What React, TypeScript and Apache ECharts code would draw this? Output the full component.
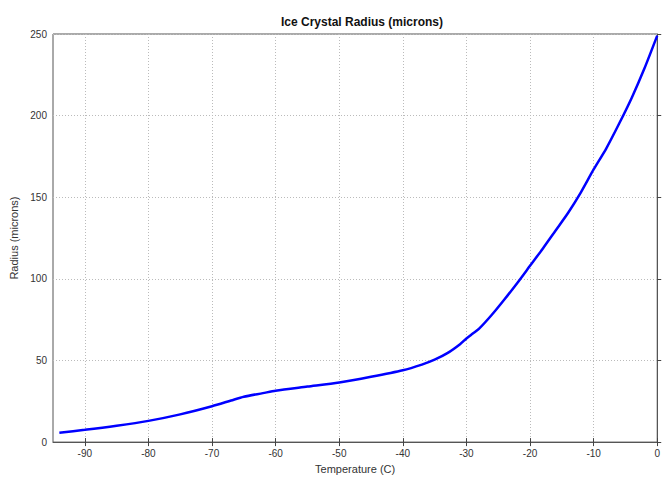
import React, { useEffect, useRef } from "react";
import * as echarts from "echarts";

const temperatures = [-94, -90, -85, -80, -75, -70, -67, -65, -62, -60, -55, -50, -45, -40, -37, -35, -33, -31, -30, -29, -28, -26, -24, -22, -20, -18, -16, -14, -12, -10, -8, -6, -4, -2, 0];
const radii = [5.8, 7.5, 10, 13, 17, 22, 25.5, 27.8, 30, 31.5, 34, 36.5, 40, 44, 47.5, 50.5, 54.5, 60, 63.5, 66.5, 69.5, 78, 87.5, 97.5, 108, 118.5, 129.5, 140.5, 153, 167, 180, 195, 211, 229, 249];
const xTicks = [-90, -80, -70, -60, -50, -40, -30, -20, -10, 0];

const FONT = "'Liberation Sans', Arial, Helvetica, sans-serif";

export default function App() {
  const ref = useRef<HTMLDivElement>(null);
  useEffect(() => {
    if (!ref.current) return;
    const chart = echarts.init(ref.current, null, { renderer: "svg" });
    const data = temperatures.map((t, i) => [t, radii[i]]);
    const tickColor = "#444";
    const gridLine = { show: true, lineStyle: { color: "#bbb", type: [1, 2] as any, width: 1 } };
    chart.setOption({
      animation: false,
      backgroundColor: "#fff",
      title: {
        text: "Ice Crystal Radius (microns)",
        left: 357,
        top: 11,
        textAlign: "center",
        textStyle: { fontFamily: FONT, fontSize: 12, fontWeight: "bold", color: "#111" },
      },
      grid: {
        left: 53,
        right: 1,
        top: 34,
        bottom: 30,
        show: true,
        borderColor: "#555",
        borderWidth: 1,
        backgroundColor: "#fff",
      },
      xAxis: [
        {
          type: "value",
          min: -95,
          max: 0,
          name: "Temperature (C)",
          nameLocation: "middle",
          nameGap: 16,
          nameTextStyle: { fontFamily: FONT, fontSize: 11, color: "#333" },
          axisLine: { show: true, onZero: false, lineStyle: { color: "#555" } },
          axisTick: { show: true, inside: true, length: 4, customValues: xTicks, lineStyle: { color: tickColor } },
          axisLabel: { customValues: xTicks, margin: 6, fontFamily: FONT, fontSize: 10, color: "#333" },
          splitLine: gridLine,
        },
        {
          type: "value",
          position: "top",
          min: -95,
          max: 0,
          axisLine: { show: false },
          axisTick: { show: true, inside: true, length: 4, customValues: xTicks, lineStyle: { color: tickColor } },
          axisLabel: { show: false, customValues: xTicks },
          splitLine: { show: false },
        },
      ],
      yAxis: [
        {
          type: "value",
          min: 0,
          max: 250,
          interval: 50,
          name: "Radius (microns)",
          nameLocation: "middle",
          nameGap: 30,
          nameRotate: 90,
          nameTextStyle: { fontFamily: FONT, fontSize: 11, color: "#333" },
          axisLine: { show: true, lineStyle: { color: "#555" } },
          axisTick: { show: true, inside: true, length: 4, lineStyle: { color: tickColor } },
          axisLabel: { margin: 6, fontFamily: FONT, fontSize: 10, color: "#333" },
          splitLine: gridLine,
        },
      ],
      series: [
        {
          type: "line",
          data,
          showSymbol: false,
          smooth: 0.25,
          lineStyle: { color: "#0000ff", width: 2.5 },
          itemStyle: { color: "#0000ff" },
        },
      ],
    });
    return () => chart.dispose();
  }, []);
  return (
    <div
      ref={ref}
      style={{ position: "fixed", left: 0, top: 0, width: 663, height: 479, background: "#fff" }}
    />
  );
}
